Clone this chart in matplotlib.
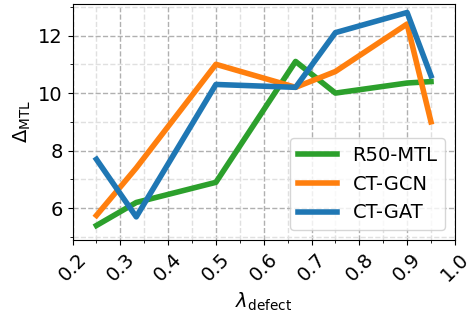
import matplotlib
matplotlib.use("Agg")
import matplotlib.pyplot as plt
import numpy as np

lam = [0.25, 1 / 3, 0.5, 2 / 3, 0.75, 0.9, 0.95]
r50_mtl = [5.4, 6.2, 6.9, 11.1, 10.0, 10.35, 10.4]
ct_gcn = [5.75, 7.4, 11.0, 10.2, 10.75, 12.4, 9.0]
ct_gat = [7.7, 5.7, 10.3, 10.2, 12.1, 12.8, 10.6]

plt.rcParams['font.size'] = 14

fig, ax = plt.subplots(figsize=(4.68, 3.22), dpi=100)

ax.plot(lam, r50_mtl, color='tab:green', lw=4, label='R50-MTL')
ax.plot(lam, ct_gcn, color='tab:orange', lw=4, label='CT-GCN')
ax.plot(lam, ct_gat, color='tab:blue', lw=4, label='CT-GAT')

ax.set_xlim(0.2, 1.0)
ax.set_ylim(4.9, 13.1)
ax.set_xticks(np.arange(0.2, 1.01, 0.1))
ax.set_xticks(np.arange(0.2, 1.01, 0.05), minor=True)
ax.set_yticks([6, 8, 10, 12])
ax.set_yticks(np.arange(5, 13.1, 1), minor=True)
ax.grid(which='major', ls='--', color='#b0b0b0', lw=1)
ax.grid(which='minor', ls='--', color='#e0e0e0', lw=1)
plt.setp(ax.get_xticklabels(), rotation=45)

ax.set_xlabel(r'$\lambda_{\mathrm{defect}}$')
ax.set_ylabel(r'$\Delta_{\mathrm{MTL}}$')
ax.legend(loc='lower right')

fig.subplots_adjust(left=0.155, right=0.972, top=0.988, bottom=0.255)
fig.savefig('out.png')
